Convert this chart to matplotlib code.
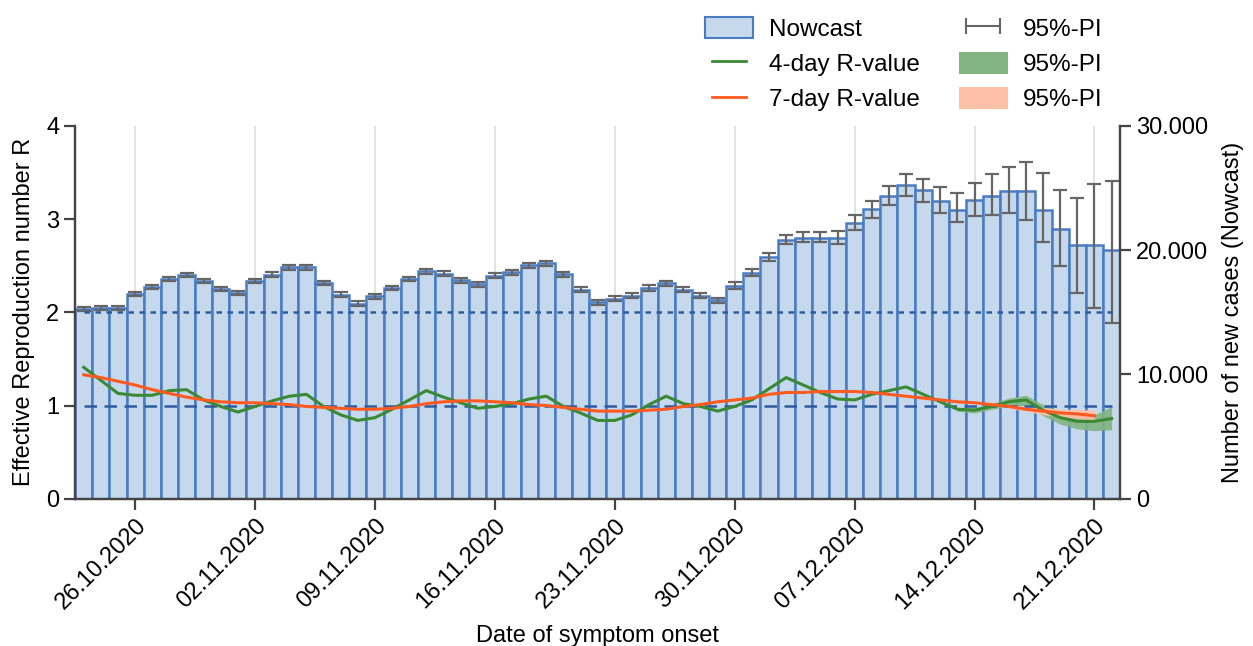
import pandas as pd
import matplotlib
matplotlib.use('Agg')
import matplotlib.pyplot as plt
from matplotlib.lines import Line2D
from matplotlib.patches import Patch

plt.rcParams['font.family'] = ['Liberation Sans', 'DejaVu Sans']

# Data
dates = pd.date_range('2020-10-23', '2020-12-22', freq='D')

nowcast = [15270, 15320, 15350, 16450, 17010, 17680, 18030, 17520, 16850, 16550,
           17550, 18030, 18620, 18620, 17380, 16420, 15700, 16290, 16960, 17680,
           18300, 18110, 17570, 17250, 17950, 18210, 18780, 18960, 18080, 16820,
           15800, 16100, 16340, 16960, 17330, 16820, 16340, 15960, 17140, 18180,
           19470, 20800, 21020, 20960, 20960, 22190, 23290, 24330, 25210, 24810,
           23960, 23260, 24010, 24330, 24760, 24760, 23260, 21740, 20460, 20400, 20000]

# distance from bar top to lower / upper end of the 95%-PI
nowcast_err_lo = [160, 160, 160, 160, 170, 170, 170, 170, 170, 170,
                  170, 180, 180, 180, 180, 180, 180, 180, 180, 190,
                  190, 190, 190, 190, 190, 190, 190, 200, 200, 200,
                  200, 200, 200, 210, 210, 220, 220, 230, 295, 270,
                  330, 320, 380, 320, 480, 590, 670, 720, 880, 930,
                  970, 990, 1260, 1520, 1740, 2350, 2590, 3020, 3880, 5030, 5880]
nowcast_err_hi = [160, 160, 160, 160, 170, 170, 170, 170, 170, 170,
                  170, 180, 180, 180, 180, 180, 180, 180, 180, 190,
                  190, 190, 190, 190, 190, 190, 190, 200, 200, 200,
                  200, 200, 200, 210, 210, 220, 220, 230, 270, 320,
                  320, 400, 480, 540, 590, 670, 670, 800, 940, 940,
                  1120, 1340, 1420, 1820, 1920, 2300, 2940, 3070, 3770, 4890, 5540]

r4 = [1.41, 1.27, 1.13, 1.11, 1.11, 1.16, 1.17, 1.06, 0.99, 0.93,
      0.99, 1.05, 1.10, 1.12, 0.99, 0.90, 0.84, 0.87, 0.96, 1.06,
      1.16, 1.09, 1.03, 0.97, 0.99, 1.02, 1.07, 1.10, 0.99, 0.92,
      0.84, 0.84, 0.90, 1.01, 1.10, 1.02, 0.99, 0.94, 0.99, 1.06,
      1.18, 1.30, 1.22, 1.14, 1.07, 1.06, 1.12, 1.16, 1.20, 1.12,
      1.04, 0.96, 0.95, 0.99, 1.04, 1.06, 0.95, 0.87, 0.83, 0.83, 0.86]

r7 = [1.33, 1.30, 1.26, 1.22, 1.17, 1.13, 1.09, 1.06, 1.04, 1.03,
      1.03, 1.02, 1.01, 0.99, 0.98, 0.97, 0.96, 0.96, 0.97, 0.99,
      1.02, 1.04, 1.05, 1.05, 1.04, 1.03, 1.01, 1.00, 0.98, 0.96,
      0.94, 0.94, 0.94, 0.95, 0.96, 0.99, 1.01, 1.04, 1.06, 1.08,
      1.12, 1.14, 1.14, 1.15, 1.15, 1.15, 1.14, 1.12, 1.10, 1.08,
      1.06, 1.04, 1.03, 1.01, 0.99, 0.96, 0.94, 0.92, 0.91, 0.89]

# 95%-PI bands, only visible over the last days
r4_band_dates = pd.date_range('2020-12-13', '2020-12-22', freq='D')
r4_lo = [0.94, 0.92, 0.96, 0.99, 1.00, 0.89, 0.80, 0.75, 0.73, 0.74]
r4_hi = [0.98, 0.98, 1.02, 1.08, 1.11, 1.01, 0.94, 0.90, 0.90, 0.99]

r7_band_dates = pd.date_range('2020-12-16', '2020-12-21', freq='D')
r7_lo = [0.97, 0.94, 0.90, 0.88, 0.86, 0.84]
r7_hi = [1.00, 0.99, 0.98, 0.96, 0.96, 0.95]

tick_dates = pd.to_datetime(['2020-10-26', '2020-11-02', '2020-11-09', '2020-11-16',
                             '2020-11-23', '2020-11-30', '2020-12-07', '2020-12-14',
                             '2020-12-21'])
tick_labels = ['26.10.2020', '02.11.2020', '09.11.2020', '16.11.2020', '23.11.2020',
               '30.11.2020', '07.12.2020', '14.12.2020', '21.12.2020']
case_ticks = [0, 10000, 20000, 30000]
case_labels = ['0', '10.000', '20.000', '30.000']

# Colours
bar_face = '#c6d8ec'
bar_edge = '#4a7cc4'
green = '#3a8a34'
orange = '#ff5a1f'
green_band = '#82b482'
orange_band = '#ffc0a8'
err_col = '#666666'
ref_col = '#2f5b9e'
spine_col = '#444444'

fig = plt.figure(figsize=(12.53, 6.46), dpi=100)
ax = fig.add_axes([0.06, 0.228, 0.834, 0.577])
ax2 = ax.twinx()

# Bars (case counts) on the right-hand scale
ax.bar(dates, nowcast, width=1.0, color=bar_face, edgecolor=bar_edge, linewidth=1.8, zorder=2)
ax.errorbar(dates, nowcast, yerr=[nowcast_err_lo, nowcast_err_hi], fmt='none',
            ecolor=err_col, elinewidth=1.6, capsize=5, capthick=1.6, zorder=3)
ax.set_ylim(0, 30000)
ax.set_xlim(dates[0] - pd.Timedelta(hours=12), dates[-1] + pd.Timedelta(hours=12))
ax.yaxis.tick_right()
ax.yaxis.set_label_position('right')
ax.set_yticks(case_ticks)
ax.set_yticklabels(case_labels)
ax.set_ylabel('Number of new cases (Nowcast)', fontsize=17, labelpad=10)
ax.set_xticks(tick_dates)
ax.set_xticklabels(tick_labels, rotation=45, ha='right', rotation_mode='anchor')
ax.set_xlabel('Date of symptom onset', fontsize=17, labelpad=8)
ax.set_axisbelow(True)
ax.xaxis.grid(True, color='#dddddd', linewidth=1.2, zorder=0)

# R values on the left-hand scale
ax2.hlines(2, dates[0], dates[-1], colors=ref_col, linestyles=(0, (2.2, 2.2)), linewidth=1.8)
ax2.hlines(1, dates[0], dates[-1], colors=ref_col, linestyles=(0, (5, 3)), linewidth=1.8)
ax2.fill_between(r4_band_dates, r4_lo, r4_hi, color=green_band, alpha=0.9, linewidth=0)
ax2.fill_between(r7_band_dates, r7_lo, r7_hi, color=orange_band, alpha=0.9, linewidth=0)
ax2.plot(dates, r4, color=green, linewidth=2.2)
ax2.plot(dates[:len(r7)], r7, color=orange, linewidth=2.2)
ax2.set_ylim(0, 4)
ax2.set_yticks([0, 1, 2, 3, 4])
ax2.yaxis.tick_left()
ax2.yaxis.set_label_position('left')
ax2.set_ylabel('Effective Reproduction number R', fontsize=17, labelpad=8)

for a in (ax, ax2):
    a.spines['top'].set_visible(False)
    for s in ('left', 'right', 'bottom'):
        a.spines[s].set_color(spine_col)
        a.spines[s].set_linewidth(1.6)
    a.tick_params(axis='both', labelsize=17, length=8, width=1.6, color=spine_col, direction='out')

handles = [
    Patch(facecolor=bar_face, edgecolor=bar_edge, linewidth=1.5),
    Line2D([], [], color=green, linewidth=2),
    Line2D([], [], color=orange, linewidth=2),
    Line2D([], [], color=err_col, linewidth=1.5, marker='|', markersize=12, markeredgewidth=1.5),
    Patch(facecolor=green_band, edgecolor='none'),
    Patch(facecolor=orange_band, edgecolor='none'),
]
labels = ['Nowcast', '4-day R-value', '7-day R-value', '95%-PI', '95%-PI', '95%-PI']
fig.legend(handles, labels, loc='upper left', bbox_to_anchor=(0.545, 1.008), ncol=2,
           frameon=False, fontsize=17.5, numpoints=2, handlelength=2.0, handleheight=1.0,
           labelspacing=0.45, columnspacing=1.6, handletextpad=0.65)

fig.savefig('out.png', dpi=100)
